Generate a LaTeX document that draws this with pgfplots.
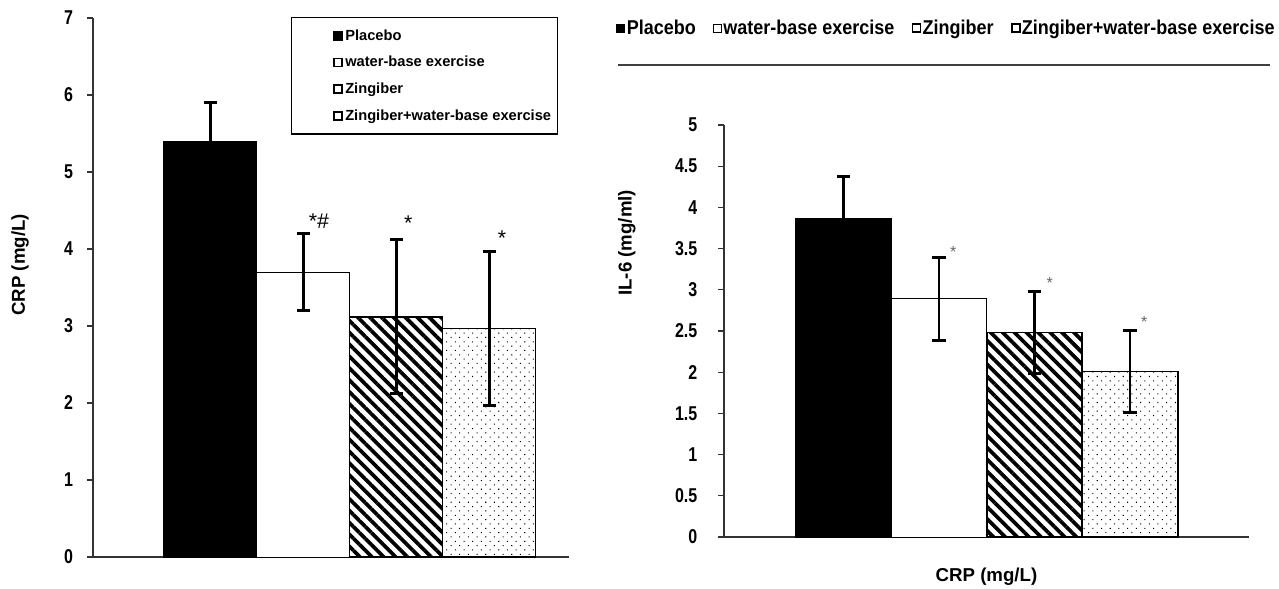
\documentclass[border=0pt]{standalone}
\usepackage{fontspec}
\setmainfont{Liberation Sans}
\newfontfamily\narrowfont{Liberation Sans}[FakeStretch=0.8]
\newfontfamily\legfont{Liberation Sans}[FakeStretch=0.9]
\usepackage{pgfplots}
\pgfplotsset{compat=1.18}
\usetikzlibrary{patterns.meta}

\tikzset{
  hatchfill/.style={pattern={Lines[angle=-45,distance=6.3pt,line width=2.8pt]}, pattern color=black},
  dotfill/.style={pattern={Dots[angle=45,distance=4.6pt,radius=0.55pt]}, pattern color=black},
}

\pgfplotsset{
  mybar/.style={
    scale only axis,
    axis x line*=bottom, axis y line*=left,
    axis line style={line width=1pt, black!80, -},
    xtick=\empty,
    tick align=outside,
    major tick length=4.5pt,
    ytick style={line width=0.8pt, black!80},
    /pgf/number format/assume math mode=true,
    yticklabel style={font=\narrowfont\bfseries\fontsize{15}{17}\selectfont},
    ylabel style={font=\bfseries\fontsize{14}{16}\selectfont},
    xlabel style={font=\bfseries\fontsize{14}{16}\selectfont},
    ybar,
    bar width=1,
    clip=false,
  },
  eb/.style={error bars/.cd, y dir=#1, y explicit,
    error bar style={line width=2.2pt, black, solid},
    error mark options={line width=2.2pt, mark size=4.9pt, black, rotate=90, solid}},
}

\begin{document}
\begin{tikzpicture}
\path[use as bounding box] (0,0) rectangle (959.25pt,441.75pt);

% ---------------- left panel ----------------
\begin{axis}[mybar,
  at={(69.75pt,24pt)}, anchor=south west,
  width=357pt, height=404.25pt,
  xmin=-0.26, xmax=4.86,
  ymin=0, ymax=7,
  ytick={0,1,2,3,4,5,6,7},
  yticklabel style={xshift=-7pt},
  ylabel={CRP (mg/L)},
  ylabel style={at={(axis description cs:-0.153,0.542)}, anchor=center},
  legend style={at={(rel axis cs:0.416,1.002)}, anchor=north west,
    draw=black, line width=1pt, fill=white,
    font=\bfseries\fontsize{11}{13}\selectfont,
    row sep=6.5pt, inner ysep=7pt, inner xsep=3pt},
  legend cell align=left,
]
\addplot[fill=black, draw=black, bar shift=0pt,
  legend image code/.code={\path (-28pt,0pt); \draw[fill=black, draw=black, line width=1.2pt] (0pt,-3pt) rectangle (6pt,3pt);},
  eb=plus]
  coordinates {(1,5.4) +- (0,0.5)};
\addlegendentry{Placebo}
\addplot[fill=white, draw=black, line width=0.6pt, bar shift=0pt,
  legend image code/.code={\path (-28pt,0pt); \draw[fill=white, draw=black, line width=1.2pt] (0pt,-3pt) rectangle (6pt,3pt);},
  eb=both]
  coordinates {(2,3.7) +- (0,0.5)};
\addlegendentry{water-base exercise}
\addplot[hatchfill, draw=black, line width=1.2pt, bar shift=0pt,
  legend image code/.code={\path (-28pt,0pt); \draw[fill=white, draw=black, line width=1.2pt] (0pt,-3pt) rectangle (6pt,3pt);},
  eb=both]
  coordinates {(3,3.12) +- (0,1.0)};
\addlegendentry{Zingiber}
\addplot[dotfill, draw=black, line width=1.2pt, bar shift=0pt,
  legend image code/.code={\path (-28pt,0pt); \draw[fill=white, draw=black, line width=1.2pt] (0pt,-3pt) rectangle (6pt,3pt);},
  eb=both]
  coordinates {(4,2.97) +- (0,1.0)};
\addlegendentry{Zingiber+water-base exercise}
\node[font=\fontsize{16}{18}\selectfont] at (axis cs:2.17,4.36) {*\#};
\node[font=\fontsize{16}{18}\selectfont] at (axis cs:3.13,4.33) {*};
\node[font=\fontsize{16}{18}\selectfont] at (axis cs:4.14,4.14) {*};
\end{axis}

% ---------------- right panel ----------------
\begin{axis}[mybar,
  at={(543pt,39pt)}, anchor=south west,
  width=393.75pt, height=309pt,
  xmin=-0.251, xmax=5.246,
  ymin=0, ymax=5,
  ytick={0,0.5,1,1.5,2,2.5,3,3.5,4,4.5,5},
  yticklabel style={xshift=-12pt},
  ylabel={IL-6 (mg/ml)},
  ylabel style={at={(axis description cs:-0.185,0.714)}, anchor=center},
  xlabel={CRP (mg/L)},
  xlabel style={at={(axis description cs:0.5,-0.097)}, anchor=center},
  legend columns=4,
  legend style={at={(rel axis cs:-0.206,1.235)}, anchor=west,
    draw=none, fill=none,
    font=\legfont\bfseries\fontsize{15}{17}\selectfont,
    inner xsep=0pt, inner ysep=0pt,
    nodes={inner xsep=1pt},
    /tikz/every even column/.append style={column sep=12pt}},
]
\addplot[fill=black, draw=black, bar shift=0pt,
  legend image code/.code={\draw[fill=black, draw=black, line width=1pt] (0pt,-3pt) rectangle (6pt,3pt);},
  eb=plus]
  coordinates {(1,3.87) +- (0,0.5)};
\addlegendentry{Placebo}
\addplot[fill=white, draw=black, line width=0.6pt, bar shift=0pt,
  legend image code/.code={\draw[fill=white, draw=black, line width=0.6pt] (0pt,-3pt) rectangle (6pt,3pt);},
  eb=both]
  coordinates {(2,2.89) +- (0,0.5)};
\addlegendentry{water-base exercise}
\addplot[hatchfill, draw=black, line width=1.2pt, bar shift=0pt,
  legend image code/.code={\draw[fill=white, draw=black, line width=1.2pt] (0pt,-3pt) rectangle (6pt,3pt);},
  eb=both]
  coordinates {(3,2.48) +- (0,0.5)};
\addlegendentry{Zingiber}
\addplot[dotfill, draw=black, line width=1.2pt, bar shift=0pt,
  legend image code/.code={\draw[fill=white, draw=black, line width=1.2pt] (0pt,-3pt) rectangle (6pt,3pt);},
  eb=both]
  coordinates {(4,2.01) +- (0,0.5)};
\addlegendentry{Zingiber+water-base exercise}
\node[font=\fontsize{12}{14}\selectfont, text=black!60] at (axis cs:2.15,3.46) {*};
\node[font=\fontsize{12}{14}\selectfont, text=black!60] at (axis cs:3.16,3.08) {*};
\node[font=\fontsize{12}{14}\selectfont, text=black!60] at (axis cs:4.15,2.61) {*};
\draw[line width=1.1pt, black!75] (rel axis cs:-0.202,1.146) -- (rel axis cs:1.04,1.146);
\end{axis}
\end{tikzpicture}
\end{document}
